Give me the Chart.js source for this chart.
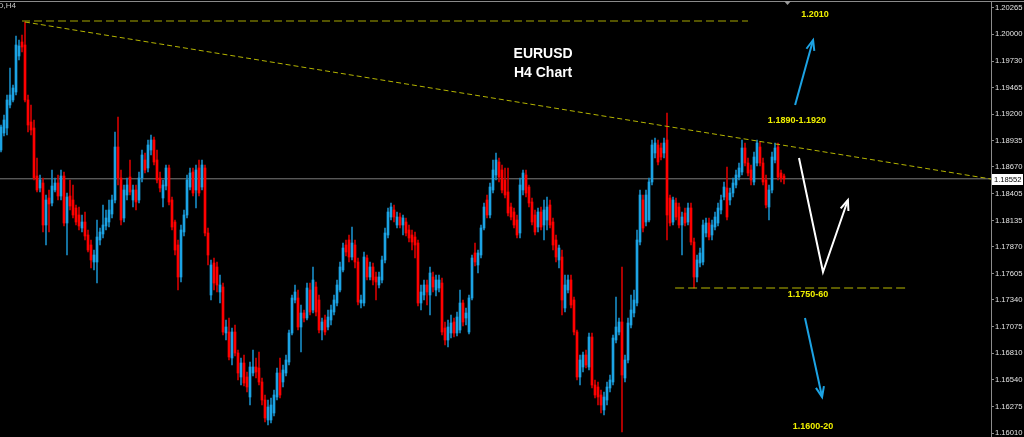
<!DOCTYPE html>
<html>
<head>
<meta charset="utf-8">
<title>EURUSD H4</title>
<script src="https://cdn.jsdelivr.net/npm/chart.js@4.4.1/dist/chart.umd.min.js"></script>
<style>
  html, body { margin: 0; padding: 0; background: #000; }
  #wrap { position: relative; width: 1024px; height: 437px; }
</style>
</head>
<body>
<div id="wrap"><canvas id="chart"></canvas></div>
<script>
// EURUSD H4 candles (one candle per column, oldest first)
const opens = [
  1.1884,1.1901,1.1906,1.1929,1.1934,1.1942,1.1978,1.1992,1.1989,1.1934,
  1.1912,1.1906,1.1858,1.1846,1.1851,1.1809,1.1836,1.1831,1.1844,1.1851,
  1.1838,1.1858,1.1811,1.1838,1.1834,1.1826,1.1819,1.1806,1.1812,1.1799,
  1.1789,1.1772,1.1772,1.1794,1.1800,1.1808,1.1812,1.1820,1.1834,1.1887,
  1.1856,1.1816,1.1839,1.1857,1.1834,1.1844,1.1834,1.1856,1.1874,1.1866,
  1.1884,1.1894,1.1874,1.1856,1.1836,1.1848,1.1866,1.1834,1.1812,1.1789,
  1.1757,1.1802,1.1819,1.1847,1.1862,1.1844,1.1866,1.1847,1.1866,1.1801,
  1.1739,1.1771,1.1767,1.1742,1.1747,1.1701,1.1702,1.1676,1.1702,1.1681,
  1.1657,1.1671,1.1657,1.1637,1.1661,1.1667,1.1666,1.1652,1.1634,1.1614,
  1.1614,1.1621,1.1637,1.1661,1.1652,1.1661,1.1672,1.1701,1.1734,1.1736,
  1.1707,1.1721,1.1716,1.1744,1.1724,1.1747,1.1734,1.1704,1.1714,1.1707,
  1.1714,1.1722,1.1731,1.1744,1.1764,1.1789,1.1794,1.1777,1.1789,1.1772,
  1.1731,1.1731,1.1776,1.1757,1.1767,1.1757,1.1749,1.1754,1.1774,1.1799,
  1.1817,1.1824,1.1809,1.1817,1.1809,1.1812,1.1804,1.1799,1.1797,1.1791,
  1.1731,1.1739,1.1749,1.1739,1.1757,1.1744,1.1746,1.1751,1.1706,1.1694,
  1.1701,1.1712,1.1701,1.1704,1.1731,1.1716,1.1702,1.1736,1.1781,1.1769,
  1.1779,1.1806,1.1834,1.1819,1.1844,1.1859,1.1872,1.1864,1.1854,1.1842,
  1.1827,1.1822,1.1814,1.1801,1.1844,1.1859,1.1847,1.1832,1.1819,1.1807,
  1.1822,1.1809,1.1814,1.1829,1.1812,1.1794,1.1774,1.1777,1.1726,1.1744,
  1.1754,1.1734,1.1702,1.1657,1.1667,1.1679,1.1667,1.1697,1.1649,1.1647,
  1.1639,1.1624,1.1634,1.1646,1.1652,1.1694,1.1702,1.1712,1.1656,1.1674,
  1.1709,1.1721,1.1731,1.1792,1.1834,1.1812,1.1814,1.1852,1.1881,1.1889,
  1.1886,1.1881,1.1894,1.1836,1.1812,1.1831,1.1827,1.1809,1.1821,1.1812,
  1.1826,1.1792,1.1757,1.1771,1.1772,1.1801,1.1811,1.1799,1.1807,1.1811,
  1.1824,1.1837,1.1846,1.1834,1.1841,1.1849,1.1857,1.1862,1.1886,1.1871,
  1.1864,1.1852,1.1871,1.1887,1.1871,1.1854,1.1827,1.1844,1.1874,1.1887,
  1.1861,1.1858
];
const highs = [
  1.1909,1.1919,1.1939,1.1966,1.1949,1.1998,1.1994,1.1999,1.2012,1.1939,
  1.1929,1.1914,1.1876,1.1859,1.1856,1.1839,1.1844,1.1864,1.1856,1.1859,
  1.1864,1.1862,1.1841,1.1854,1.1849,1.1829,1.1827,1.1819,1.1822,1.1804,
  1.1794,1.1784,1.1814,1.1806,1.1829,1.1824,1.1834,1.1839,1.1902,1.1917,
  1.1864,1.1849,1.1856,1.1874,1.1849,1.1849,1.1862,1.1884,1.1881,1.1894,
  1.1899,1.1897,1.1884,1.1862,1.1854,1.1869,1.1869,1.1837,1.1814,1.1794,
  1.1809,1.1824,1.1859,1.1866,1.1866,1.1869,1.1874,1.1874,1.1869,1.1806,
  1.1774,1.1776,1.1772,1.1759,1.1751,1.1714,1.1716,1.1706,1.1709,1.1684,
  1.1676,1.1679,1.1662,1.1672,1.1684,1.1676,1.1682,1.1656,1.1639,1.1634,
  1.1636,1.1644,1.1666,1.1676,1.1669,1.1679,1.1704,1.1739,1.1749,1.1744,
  1.1729,1.1724,1.1751,1.1751,1.1767,1.1752,1.1739,1.1716,1.1719,1.1724,
  1.1729,1.1739,1.1754,1.1772,1.1791,1.1794,1.1799,1.1807,1.1794,1.1776,
  1.1739,1.1782,1.1779,1.1772,1.1771,1.1762,1.1762,1.1778,1.1806,1.1826,
  1.1831,1.1829,1.1822,1.1821,1.1819,1.1816,1.1809,1.1804,1.1802,1.1794,
  1.1749,1.1754,1.1754,1.1767,1.1762,1.1759,1.1759,1.1756,1.1712,1.1714,
  1.1719,1.1716,1.1722,1.1744,1.1734,1.1726,1.1739,1.1779,1.1791,1.1784,
  1.1809,1.1831,1.1839,1.1851,1.1874,1.1881,1.1876,1.1869,1.1866,1.1866,
  1.1831,1.1826,1.1819,1.1856,1.1864,1.1864,1.1849,1.1836,1.1824,1.1826,
  1.1827,1.1834,1.1837,1.1834,1.1816,1.1799,1.1789,1.1784,1.1759,1.1759,
  1.1759,1.1737,1.1704,1.1679,1.1682,1.1684,1.1701,1.1701,1.1654,1.1652,
  1.1644,1.1642,1.1652,1.1659,1.1699,1.1737,1.1716,1.1767,1.1679,1.1716,
  1.1739,1.1744,1.1804,1.1844,1.1839,1.1844,1.1856,1.1894,1.1896,1.1894,
  1.1891,1.1896,1.1921,1.1839,1.1837,1.1836,1.1831,1.1822,1.1826,1.1831,
  1.1831,1.1796,1.1779,1.1786,1.1814,1.1816,1.1816,1.1814,1.1822,1.1831,
  1.1839,1.1852,1.1867,1.1846,1.1856,1.1864,1.1871,1.1894,1.1891,1.1876,
  1.1869,1.1882,1.1894,1.1892,1.1876,1.1859,1.1849,1.1882,1.1891,1.1891,
  1.1864,1.1860
];
const lows = [
  1.1882,1.1898,1.1899,1.1926,1.1932,1.1939,1.1974,1.1982,1.1932,1.1902,
  1.1899,1.1854,1.1842,1.1842,1.1802,1.1789,1.1802,1.1828,1.1842,1.1834,
  1.1834,1.1808,1.1779,1.1824,1.1816,1.1809,1.1804,1.1802,1.1794,1.1782,
  1.1766,1.1764,1.1751,1.1789,1.1796,1.1804,1.1807,1.1816,1.1831,1.1849,
  1.1809,1.1812,1.1834,1.1839,1.1827,1.1824,1.1831,1.1852,1.1861,1.1862,
  1.1879,1.1869,1.1851,1.1842,1.1827,1.1844,1.1829,1.1804,1.1779,1.1744,
  1.1752,1.1798,1.1816,1.1844,1.1838,1.1826,1.1838,1.1844,1.1798,1.1769,
  1.1734,1.1744,1.1742,1.1731,1.1699,1.1694,1.1674,1.1669,1.1678,1.1654,
  1.1649,1.1648,1.1642,1.1629,1.1658,1.1656,1.1649,1.1629,1.1612,1.1609,
  1.1611,1.1618,1.1634,1.1636,1.1647,1.1658,1.1669,1.1699,1.1731,1.1704,
  1.1682,1.1712,1.1714,1.1719,1.1721,1.1718,1.1701,1.1694,1.1699,1.1704,
  1.1709,1.1719,1.1728,1.1742,1.1762,1.1778,1.1772,1.1774,1.1766,1.1729,
  1.1726,1.1728,1.1754,1.1754,1.1749,1.1734,1.1746,1.1751,1.1771,1.1796,
  1.1814,1.1812,1.1806,1.1806,1.1799,1.1798,1.1792,1.1784,1.1776,1.1728,
  1.1724,1.1734,1.1729,1.1719,1.1742,1.1738,1.1742,1.1699,1.1689,1.1687,
  1.1696,1.1697,1.1698,1.1701,1.1708,1.1709,1.1700,1.1734,1.1768,1.1761,
  1.1776,1.1804,1.1816,1.1816,1.1841,1.1854,1.1852,1.1841,1.1836,1.1818,
  1.1814,1.1806,1.1796,1.1796,1.1839,1.1837,1.1827,1.1809,1.1799,1.1802,
  1.1804,1.1794,1.1804,1.1806,1.1784,1.1772,1.1766,1.1719,1.1722,1.1741,
  1.1726,1.1699,1.1654,1.1649,1.1662,1.1666,1.1664,1.1646,1.1636,1.1629,
  1.1621,1.1619,1.1629,1.1642,1.1649,1.1691,1.1699,1.1602,1.1652,1.1671,
  1.1706,1.1717,1.1728,1.1789,1.1802,1.1808,1.1812,1.1849,1.1876,1.1869,
  1.1874,1.1876,1.1794,1.1808,1.1809,1.1814,1.1806,1.1779,1.1808,1.1809,
  1.1789,1.1746,1.1752,1.1767,1.1769,1.1797,1.1794,1.1794,1.1804,1.1808,
  1.1820,1.1834,1.1814,1.1829,1.1837,1.1846,1.1854,1.1859,1.1868,1.1858,
  1.1849,1.1849,1.1868,1.1868,1.1849,1.1826,1.1814,1.1841,1.1871,1.1854,
  1.1852,1.1850
];
const closes = [
  1.1907,1.1914,1.1934,1.1939,1.1946,1.1989,1.1988,1.1987,1.1934,1.1909,
  1.1904,1.1856,1.1844,1.1854,1.1809,1.1834,1.1830,1.1848,1.1851,1.1838,
  1.1858,1.1811,1.1837,1.1828,1.1819,1.1812,1.1808,1.1812,1.1798,1.1784,
  1.1774,1.1779,1.1797,1.1802,1.1809,1.1816,1.1824,1.1834,1.1887,1.1856,
  1.1814,1.1844,1.1849,1.1842,1.1844,1.1832,1.1856,1.1879,1.1864,1.1889,
  1.1894,1.1872,1.1854,1.1846,1.1849,1.1866,1.1832,1.1807,1.1784,1.1757,
  1.1804,1.1819,1.1854,1.1861,1.1841,1.1864,1.1841,1.1869,1.1801,1.1779,
  1.1769,1.1751,1.1749,1.1749,1.1702,1.1707,1.1677,1.1702,1.1681,1.1661,
  1.1671,1.1651,1.1647,1.1667,1.1667,1.1662,1.1652,1.1634,1.1616,1.1627,
  1.1629,1.1639,1.1661,1.1639,1.1664,1.1674,1.1701,1.1736,1.1742,1.1707,
  1.1721,1.1716,1.1746,1.1722,1.1754,1.1722,1.1704,1.1712,1.1702,1.1717,
  1.1724,1.1734,1.1749,1.1767,1.1786,1.1782,1.1777,1.1791,1.1772,1.1732,
  1.1734,1.1777,1.1757,1.1767,1.1754,1.1752,1.1757,1.1774,1.1801,1.1822,
  1.1827,1.1817,1.1817,1.1809,1.1816,1.1801,1.1796,1.1792,1.1789,1.1731,
  1.1742,1.1749,1.1742,1.1761,1.1747,1.1754,1.1754,1.1702,1.1694,1.1707,
  1.1711,1.1701,1.1717,1.1731,1.1712,1.1721,1.1736,1.1776,1.1772,1.1781,
  1.1806,1.1827,1.1819,1.1847,1.1864,1.1874,1.1857,1.1844,1.1839,1.1821,
  1.1817,1.1809,1.1799,1.1849,1.1861,1.1841,1.1831,1.1812,1.1802,1.1822,
  1.1807,1.1824,1.1827,1.1809,1.1789,1.1777,1.1786,1.1734,1.1749,1.1754,
  1.1729,1.1702,1.1657,1.1674,1.1679,1.1669,1.1697,1.1649,1.1639,1.1637,
  1.1629,1.1637,1.1647,1.1654,1.1696,1.1707,1.1712,1.1659,1.1674,1.1711,
  1.1724,1.1734,1.1794,1.1839,1.1806,1.1839,1.1852,1.1889,1.1891,1.1872,
  1.1877,1.1891,1.1819,1.1811,1.1834,1.1817,1.1809,1.1817,1.1811,1.1826,
  1.1792,1.1757,1.1774,1.1781,1.1809,1.1811,1.1797,1.1809,1.1817,1.1826,
  1.1834,1.1847,1.1817,1.1841,1.1851,1.1859,1.1866,1.1886,1.1871,1.1861,
  1.1854,1.1877,1.1891,1.1871,1.1852,1.1829,1.1844,1.1877,1.1886,1.1857,
  1.1856,1.1855
];

// right-hand price scale, as printed by the terminal
const priceTicks = [
  1.20265, 1.20000, 1.19730, 1.19465, 1.19200, 1.18935, 1.18670, 1.18405, 1.18135,
  1.17870, 1.17605, 1.17340, 1.17075, 1.16810, 1.16540, 1.16275, 1.16010
];
const bidPrice = 1.18552;
const symbolLabel = 'EURUSD,H4';

// drawn objects: x is the candle index, y the price
const trendLine = [{ x: 8, y: 1.2012 }, { x: 330, y: 1.1855 }];
const highLevel = [{ x: 7, y: 1.2013 }, { x: 249, y: 1.2013 }];
const supportLevel = [{ x: 224.7, y: 1.1746 }, { x: 302.3, y: 1.1746 }];

const noteTexts = ['1.2010', '1.1890-1.1920', '1.1750-60', '1.1600-20', 'EURUSD', 'H4 Chart'];
const noteAnchors = [[271.3, 1.2019], [265.3, 1.1913], [269, 1.1739], [270.7, 1.1607], [180.7, 1.1980], [180.7, 1.1961]];

const arrowPaths = [
  [[264.7, 1.1929], [270.7, 1.1994]],
  [[266, 1.1876], [274, 1.1762], [282.3, 1.1834]],
  [[268, 1.1716], [273.7, 1.1637]]
];

const BULL = '#1ca3e4';
const BEAR = '#ff0000';
const BULL_WICK = '#1788c0';
const BEAR_WICK = '#d00000';
const YELLOW = '#f0f000';
const LINE_OLIVE = '#a6a600';
const AXIS_FONT = '"Liberation Sans", Arial, sans-serif';
const NOTE_FONT = '"Liberation Sans", Arial, sans-serif';

const noteStyles = [
  { color: YELLOW, font: 'bold 9px ' + NOTE_FONT },
  { color: YELLOW, font: 'bold 9px ' + NOTE_FONT },
  { color: YELLOW, font: 'bold 9px ' + NOTE_FONT },
  { color: YELLOW, font: 'bold 9px ' + NOTE_FONT },
  { color: '#ffffff', font: 'bold 14px ' + NOTE_FONT },
  { color: '#ffffff', font: 'bold 14px ' + NOTE_FONT }
];
const arrowColors = [BULL, '#ffffff', BULL];

const isUp = i => closes[i] >= opens[i];

const overlayPlugin = {
  id: 'overlay',
  beforeDraw(chart) {
    const { ctx, width, height } = chart;
    ctx.save();
    ctx.fillStyle = '#000';
    ctx.fillRect(0, 0, width, height);
    ctx.restore();
  },
  afterDatasetsDraw(chart) {
    const { ctx, scales: { x, y } } = chart;
    ctx.save();

    // hand-drawn scenario arrows
    arrowPaths.forEach((path, k) => {
      const pts = path.map(p => [x.getPixelForValue(p[0]), y.getPixelForValue(p[1])]);
      ctx.strokeStyle = arrowColors[k];
      ctx.lineWidth = 2;
      ctx.lineJoin = 'miter';
      ctx.beginPath();
      pts.forEach((p, i) => (i ? ctx.lineTo(p[0], p[1]) : ctx.moveTo(p[0], p[1])));
      ctx.stroke();
      const [x0, y0] = pts[pts.length - 2];
      const [x1, y1] = pts[pts.length - 1];
      const ang = Math.atan2(y1 - y0, x1 - x0);
      const len = 11, spread = 0.38;
      ctx.beginPath();
      ctx.moveTo(x1 - len * Math.cos(ang - spread), y1 - len * Math.sin(ang - spread));
      ctx.lineTo(x1, y1);
      ctx.lineTo(x1 - len * Math.cos(ang + spread), y1 - len * Math.sin(ang + spread));
      ctx.stroke();
    });

    // text labels
    ctx.textAlign = 'center';
    ctx.textBaseline = 'middle';
    noteTexts.forEach((t, k) => {
      ctx.fillStyle = noteStyles[k].color;
      ctx.font = noteStyles[k].font;
      ctx.fillText(t, x.getPixelForValue(noteAnchors[k][0]), y.getPixelForValue(noteAnchors[k][1]));
    });
    ctx.restore();
  },
  afterDraw(chart) {
    const { ctx, width, chartArea, scales: { x, y } } = chart;
    ctx.save();
    // window frame line along the top
    ctx.fillStyle = '#8a8a8a';
    ctx.fillRect(0, 1, width, 1);

    // chart-shift marker after the last bar
    const sx = Math.round(x.getPixelForValue(closes.length)) + 0.5;
    ctx.fillStyle = '#9a9a9a';
    ctx.beginPath();
    ctx.moveTo(sx - 3.5, 1);
    ctx.lineTo(sx + 3.5, 1);
    ctx.lineTo(sx, 5);
    ctx.closePath();
    ctx.fill();

    // symbol caption, mostly off the left edge as in the terminal
    ctx.fillStyle = '#c8c8c8';
    ctx.font = '8px ' + NOTE_FONT;
    ctx.textAlign = 'right';
    ctx.textBaseline = 'middle';
    ctx.fillText(symbolLabel, 16, 6);

    // bid price box on the scale
    const by = Math.round(y.getPixelForValue(bidPrice));
    ctx.fillStyle = '#ffffff';
    ctx.fillRect(chartArea.right + 1, by - 5, 31, 11);
    ctx.fillStyle = '#000000';
    ctx.font = '7.6px ' + AXIS_FONT;
    ctx.textAlign = 'left';
    ctx.fillText(bidPrice.toFixed(5), chartArea.right + 3, by + 0.5);
    ctx.restore();
  }
};

const idx = closes.map((_, i) => i);

new Chart(document.getElementById('chart'), {
  type: 'bar',
  data: {
    datasets: [
      {
        label: 'body',
        data: idx.map(i => ({ x: i, y: [opens[i], closes[i]] })),
        backgroundColor: idx.map(i => (isUp(i) ? BULL : BEAR)),
        barThickness: 2,
        minBarLength: 1,
        grouped: false,
        order: 1
      },
      {
        label: 'wick',
        data: idx.map(i => ({ x: i, y: [lows[i], highs[i]] })),
        backgroundColor: idx.map(i => (isUp(i) ? BULL_WICK : BEAR_WICK)),
        barThickness: 1,
        grouped: false,
        order: 2
      },
      {
        type: 'line',
        label: 'trend',
        data: trendLine,
        borderColor: '#b4b400',
        borderWidth: 1,
        borderDash: [5, 3],
        pointRadius: 0,
        order: 0
      },
      {
        type: 'line',
        label: 'high',
        data: highLevel,
        borderColor: LINE_OLIVE,
        borderWidth: 1,
        borderDash: [8, 4],
        pointRadius: 0,
        order: 0
      },
      {
        type: 'line',
        label: 'support',
        data: supportLevel,
        borderColor: '#b8b800',
        borderWidth: 1,
        borderDash: [9, 4],
        pointRadius: 0,
        order: 0
      },
      {
        type: 'line',
        label: 'bid',
        data: [{ x: -1, y: bidPrice }, { x: 331, y: bidPrice }],
        borderColor: '#7c7c7c',
        borderWidth: 1,
        pointRadius: 0,
        order: 5
      }
    ]
  },
  options: {
    responsive: true,
    maintainAspectRatio: false,
    animation: false,
    events: [],
    layout: { padding: { top: 2, left: 0, right: 0, bottom: 0 } },
    plugins: { legend: { display: false }, tooltip: { enabled: false } },
    scales: {
      x: {
        type: 'linear',
        display: false,
        offset: false,
        min: -1 / 3,
        max: 330
      },
      y: {
        position: 'right',
        min: 1.1597,
        max: 1.2032,
        afterBuildTicks: (scale) => { scale.ticks = priceTicks.map(v => ({ value: v })); },
        afterFit: (scale) => { scale.width = 33; scale.paddingTop = 0; scale.paddingBottom = 0; },
        grid: { drawOnChartArea: false, tickLength: 3, color: '#8c8c8c' },
        border: { color: '#8c8c8c' },
        ticks: {
          autoSkip: false,
          padding: 1,
          color: '#e4e4e4',
          font: { family: AXIS_FONT, size: 7.6 },
          callback: (v) => Number(v).toFixed(5)
        }
      }
    }
  },
  plugins: [overlayPlugin]
});
</script>
</body>
</html>
